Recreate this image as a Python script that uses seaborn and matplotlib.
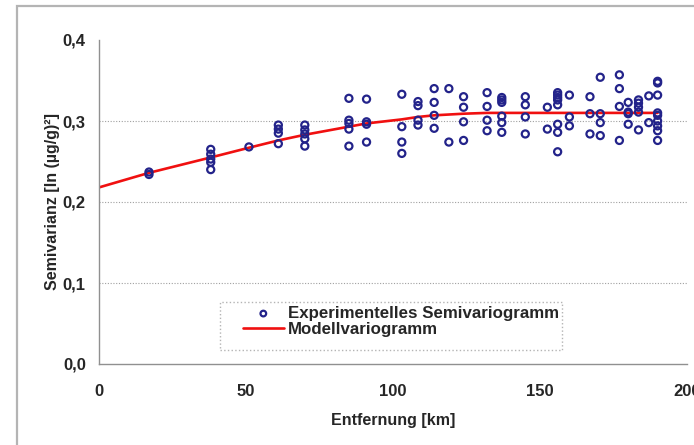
import matplotlib
matplotlib.use('Agg')
import matplotlib.pyplot as plt
import matplotlib.ticker as mticker
from matplotlib.patches import Rectangle
import seaborn as sns
import pandas as pd

# experimental semivariogram (distance in km, semivariance)
exp_dist = ([17] * 2 + [38] * 5 + [51] + [61] * 4 + [70] * 5 + [85] * 5
            + [91] * 4 + [103] * 4 + [108.5] * 4 + [114] * 4 + [119] * 2
            + [124] * 4 + [132] * 4 + [137] * 6 + [145] * 4 + [152.5] * 2
            + [156] * 8 + [160] * 3 + [167] * 3 + [170.5] * 4 + [177] * 4
            + [180] * 4 + [183.5] * 5 + [187] * 2 + [190] * 9)
exp_gamma = [0.237, 0.234,
             0.265, 0.259, 0.253, 0.249, 0.240,
             0.268,
             0.295, 0.290, 0.285, 0.272,
             0.295, 0.289, 0.284, 0.278, 0.269,
             0.328, 0.301, 0.297, 0.290, 0.269,
             0.327, 0.299, 0.296, 0.274,
             0.333, 0.293, 0.274, 0.260,
             0.324, 0.319, 0.301, 0.295,
             0.340, 0.323, 0.307, 0.291,
             0.340, 0.274,
             0.330, 0.317, 0.299, 0.276,
             0.335, 0.318, 0.301, 0.288,
             0.329, 0.326, 0.323, 0.306, 0.298, 0.286,
             0.330, 0.320, 0.305, 0.284,
             0.317, 0.290,
             0.335, 0.332, 0.329, 0.326, 0.320, 0.296, 0.286, 0.262,
             0.332, 0.305, 0.294,
             0.330, 0.309, 0.284,
             0.354, 0.309, 0.298, 0.282,
             0.357, 0.340, 0.318, 0.276,
             0.323, 0.311, 0.309, 0.296,
             0.326, 0.322, 0.317, 0.311, 0.289,
             0.331, 0.298,
             0.349, 0.347, 0.332, 0.310, 0.307, 0.300, 0.294, 0.288, 0.276]

# model variogram
model_dist = [0, 17, 38, 51, 61, 70, 85, 91, 103, 108.5, 114, 119, 124,
              132, 137, 145, 152.5, 156, 160, 167, 170.5, 177, 180, 183.5,
              187, 190]
model_gamma = [0.218, 0.236, 0.255, 0.267, 0.276, 0.283, 0.293, 0.297,
               0.302, 0.305, 0.307, 0.308, 0.309, 0.310, 0.310, 0.310,
               0.310, 0.310, 0.310, 0.310, 0.310, 0.310, 0.310, 0.310,
               0.310, 0.310]

x_ticks = [0, 50, 100, 150, 200]
y_ticks = [0.0, 0.1, 0.2, 0.3, 0.4]
grid_levels = [0.1, 0.2, 0.3]

exp_df = pd.DataFrame({'dist': exp_dist, 'gamma': exp_gamma})
model_df = pd.DataFrame({'dist': model_dist, 'gamma': model_gamma})

sns.set_style('white')
plt.rcParams['font.family'] = ['Liberation Sans', 'DejaVu Sans']
plt.rcParams['font.weight'] = 'bold'

W, H = 694, 445
fig = plt.figure(figsize=(W / 100, H / 100), dpi=100)
ax = fig.add_axes([99 / W, 1 - 364 / H, 588 / W, 324 / H])

# grey frame around the chart (runs off the right/bottom edge)
fig.patches.append(Rectangle((17 / W, -0.1), 1.2, 1 - 6 / H + 0.1,
                             transform=fig.transFigure, fill=False,
                             edgecolor='#b4b4b4', linewidth=1.6))
# dotted legend box
fig.patches.append(Rectangle((220 / W, 1 - 350 / H), 342 / W, 48 / H,
                             transform=fig.transFigure, fill=False,
                             edgecolor='#b4b4b4', linestyle=':',
                             linewidth=1, zorder=5))

for g in grid_levels:
    ax.axhline(g, color='#a0a0a0', linestyle=(0, (1, 1.5)), linewidth=0.8,
               zorder=0)

sns.scatterplot(data=exp_df, x='dist', y='gamma', ax=ax, marker='o',
                s=26, facecolor='none', edgecolor='#23238a', linewidth=1.6,
                label='Experimentelles Semivariogramm', zorder=3)
sns.lineplot(data=model_df, x='dist', y='gamma', ax=ax, sort=False,
             color='#f01010', linewidth=1.9, label='Modellvariogramm',
             zorder=2)

ax.set_xlim(0, 200)
ax.set_ylim(0, 0.4)
ax.set_xticks(x_ticks)
ax.set_yticks(y_ticks)
ax.yaxis.set_major_formatter(
    mticker.FuncFormatter(lambda v, p: f'{v:.1f}'.replace('.', ',')))
ax.tick_params(axis='both', direction='out', length=3, width=1,
               color='#909090', labelsize=12)
ax.tick_params(axis='x', pad=11.4)
ax.tick_params(axis='y', pad=6.5)
for lbl in ax.get_xticklabels() + ax.get_yticklabels():
    lbl.set_fontweight('bold')

for side in ['top', 'right']:
    ax.spines[side].set_visible(False)
for side in ['left', 'bottom']:
    ax.spines[side].set_color('#909090')
    ax.spines[side].set_linewidth(1)

ax.set_xlabel('Entfernung [km]', fontsize=11.5, fontweight='bold',
              labelpad=10)
ax.set_ylabel('Semivarianz [ln (µg/g)²]', fontsize=11.5,
              fontweight='bold', labelpad=2)

# legend without its own frame, placed inside the dotted box
leg = ax.legend(loc='upper left', bbox_to_anchor=((243 - 99) / 588, (364 - 306) / 324),
                borderaxespad=0, borderpad=0, fontsize=12.2,
                handlelength=2.4, handletextpad=0.25, labelspacing=0.05,
                frameon=False, markerscale=0.8)
for t in leg.get_texts():
    t.set_fontweight('bold')

fig.savefig('out.png', dpi=100)
